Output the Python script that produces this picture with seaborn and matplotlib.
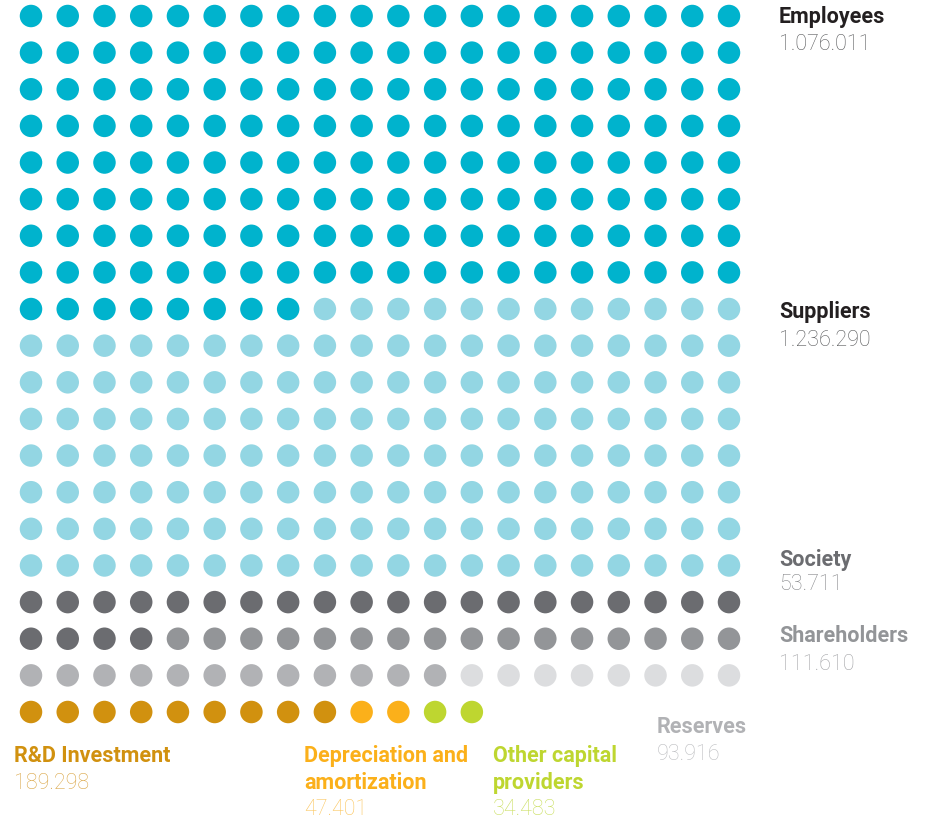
import matplotlib
matplotlib.use("Agg")
import matplotlib.pyplot as plt
import seaborn as sns
import pandas as pd
import numpy as np

# ---- data ----
categories = ["Employees", "Suppliers", "Society", "Shareholders", "Reserves",
              "Unassigned", "R&D Investment", "Depreciation and\namortization",
              "Other capital\nproviders"]
dot_counts = [168, 152, 24, 16, 12, 8, 9, 2, 2]
value_labels = ["1.076.011", "1.236.290", "53.711", "111.610", "93.916",
                "", "189.298", "47.401", "34.483"]
dot_colors = ["#00b3cd", "#93d6e3", "#6b6c70", "#939598", "#b1b2b5",
              "#dcdddf", "#d1910f", "#fbb01a", "#bed630"]
label_colors = ["#231f20", "#231f20", "#6b6c70", "#939598", "#b1b2b5",
                "#dcdddf", "#d1910f", "#fbb01a", "#bed630"]
value_colors = ["#58595b", "#58595b", "#858689", "#a3a4a7", "#bcbdc0",
                "#dcdddf", "#dba84a", "#fbc55c", "#cadf60"]
n_cols = 20

# ---- build dot table ----
cat_seq = np.repeat(categories, dot_counts)
idx = np.arange(len(cat_seq))
df = pd.DataFrame({"category": cat_seq, "col": idx % n_cols, "row": idx // n_cols})
palette = dict(zip(categories, dot_colors))

W, H = 934, 822
fig = plt.figure(figsize=(W / 100, H / 100), dpi=100)
sns.set_style("white")
plt.rcParams["font.family"] = ["Roboto", "DejaVu Sans"]

# axes placed so that column centres span 31..729 px and rows 16..712 px
xstep = (729 - 31) / 19
ystep = (712 - 16) / 19
left_px = 31 - xstep / 2
top_px = 16 - ystep / 2
ax = fig.add_axes([left_px / W, 1 - (top_px + 20 * ystep) / H,
                   20 * xstep / W, 20 * ystep / H])
sns.scatterplot(data=df, x="col", y="row", hue="category", palette=palette,
                s=(22.5 * 72 / 100) ** 2, linewidth=0, legend=False, ax=ax)
ax.set_xlim(-0.5, 19.5)
ax.set_ylim(19.5, -0.5)
ax.axis("off")

# ---- labels (pixel positions: x, label centre y, value centre y) ----
label_pos = {
    "Employees": (779, 17, 45),
    "Suppliers": (779, 312, 340),
    "Society": (779, 560, 584),
    "Shareholders": (779, 636, 664),
    "Reserves": (657, 727, 754),
    "R&D Investment": (14, 756, 783),
    "Depreciation and\namortization": (304, 756, 809),
    "Other capital\nproviders": (493, 756, 809),
}
fs = 15.5
for cat, lc, vc, val in zip(categories, label_colors, value_colors, value_labels):
    if cat not in label_pos:
        continue
    x, ly, vy = label_pos[cat]
    lines = cat.split("\n")
    for i, line in enumerate(lines):
        fig.text(x / W, 1 - (ly + i * 26.5) / H, line, color=lc, fontsize=fs,
                 fontweight="bold", va="center", ha="left")
    fig.text(x / W, 1 - vy / H, val, color=vc, fontsize=fs,
             fontweight="light", va="center", ha="left")

fig.savefig("out.png", dpi=100)
